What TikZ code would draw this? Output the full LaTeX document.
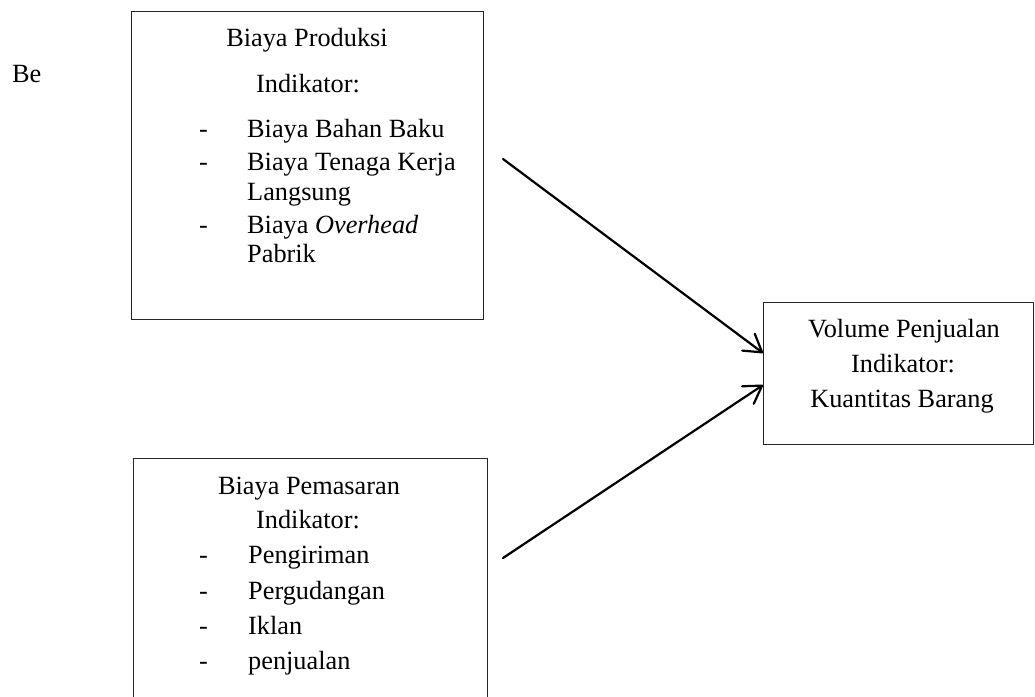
\documentclass[tikz,border=0pt]{standalone}
\usepackage{fontspec}
\setmainfont{Liberation Serif}
\usetikzlibrary{arrows.meta}
\tikzset{
  boxframe/.style={draw=black!85, line width=1.3pt, rectangle, inner sep=0pt},
  txt/.style={inner sep=0pt, font=\fontsize{26.3}{30}\selectfont},
  cline/.style={txt, anchor=base},
  lline/.style={txt, anchor=base west},
  conn/.style={draw=black, line width=2.2pt, line cap=round,
    -{Straight Barb[length=17pt,width=21pt,line cap=round,line join=round]}}
}
\begin{document}
\begin{tikzpicture}[x=1pt,y=-1pt]
\useasboundingbox (0,0) rectangle (1035,696);
\clip (0,0) rectangle (1035,696);
\fill[white] (0,0) rectangle (1035,696);

% stray text
\node[lline] (be) at (12,82) {Be};

% Box 1: Biaya Produksi
\node[boxframe, anchor=north west, minimum width=352pt, minimum height=308pt] (prod) at (131,11) {};
\node[cline] (prodt) at (307,46) {Biaya Produksi};
\node[cline] (prodi) at (308,92) {Indikator:};
\node[lline] (pd1) at (199,137) {-};
\node[lline] (p1) at (247,137) {Biaya Bahan Baku};
\node[lline] (pd2) at (199,170) {-};
\node[lline] (p2) at (247,170) {Biaya Tenaga Kerja};
\node[lline] (p2b) at (247,200) {Langsung};
\node[lline] (pd3) at (199,233) {-};
\node[lline] (p3) at (247,233) {Biaya \textit{Overhead}};
\node[lline] (p3b) at (247,262) {Pabrik};

% Box 2: Biaya Pemasaran
\node[boxframe, anchor=north west, minimum width=354pt, minimum height=280pt] (pem) at (133,458) {};
\node[cline] (pemt) at (309,494) {Biaya Pemasaran};
\node[cline] (pemi) at (308,528) {Indikator:};
\node[lline] (md1) at (199,563) {-};
\node[lline] (m1) at (248,563) {Pengiriman};
\node[lline] (md2) at (199,599) {-};
\node[lline] (m2) at (248,599) {Pergudangan};
\node[lline] (md3) at (199,634) {-};
\node[lline] (m3) at (248,634) {Iklan};
\node[lline] (md4) at (199,669) {-};
\node[lline] (m4) at (248,669) {penjualan};

% Box 3: Volume Penjualan
\node[boxframe, anchor=north west, minimum width=270pt, minimum height=142pt] (vol) at (763,302) {};
\node[cline] (volt) at (904,337) {Volume Penjualan};
\node[cline] (voli) at (903,372) {Indikator:};
\node[cline] (volk) at (902,407) {Kuantitas Barang};

% connectors
\coordinate (s1) at (503,159);
\coordinate (s2) at (503,558);
\coordinate (e1) at (vol.west |- 0,353);
\coordinate (e2) at (vol.west |- 0,385);
\draw[conn] (s1) -- (e1);
\draw[conn] (s2) -- (e2);
\end{tikzpicture}
\end{document}
